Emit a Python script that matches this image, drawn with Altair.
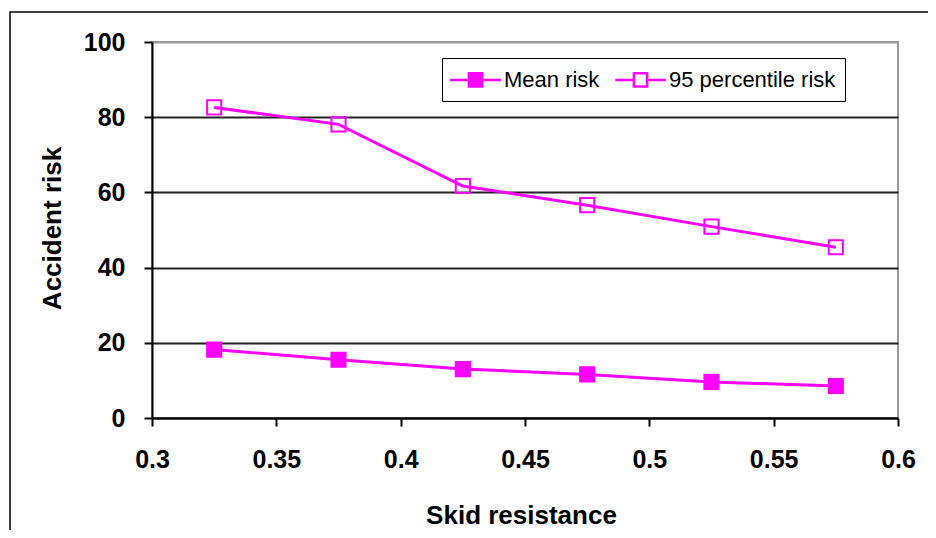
import altair as alt
import pandas as pd

skid = [0.325, 0.375, 0.425, 0.475, 0.525, 0.575]
mean_risk = [18.2, 15.5, 13.0, 11.6, 9.6, 8.5]
p95_risk = [82.6, 78.1, 61.7, 56.6, 50.9, 45.4]
series_names = ["Mean risk", "95 percentile risk"]
x_ticks = [0.3, 0.35, 0.4, 0.45, 0.5, 0.55, 0.6]
y_ticks = [0, 20, 40, 60, 80, 100]

df = pd.DataFrame({
    "skid": skid * 2,
    "risk": mean_risk + p95_risk,
    "series": [series_names[0]] * len(skid) + [series_names[1]] * len(skid),
})

MAG = "#ff00ff"
FONT = "Liberation Sans"
SYMBOL = "M-2.3,0H-0.6M0.6,0H2.3M-0.6,-0.6H0.6V0.6H-0.6Z"

x = alt.X(
    "skid:Q",
    scale=alt.Scale(domain=[0.3, 0.6], nice=False, zero=False),
    axis=alt.Axis(
        values=x_ticks, format=".2~f", title="Skid resistance", grid=False,
        domainColor="black", domainWidth=2, tickColor="black", tickWidth=2, tickSize=8,
        labelFont=FONT, labelFontSize=25, labelFontWeight="bold", labelColor="black",
        labelBaseline="alphabetic", labelPadding=41, labelFlush=False,
        titleFont=FONT, titleFontSize=26, titleFontWeight="bold", titleColor="black",
        titleX=369, titleY=105, titleBaseline="alphabetic", titleAlign="center",
    ),
)
y = alt.Y(
    "risk:Q",
    scale=alt.Scale(domain=[0, 100], nice=False),
    axis=alt.Axis(
        values=y_ticks, title="Accident risk", grid=True,
        gridColor={"condition": {"test": "datum.value === 100", "value": "#9a9a9a"}, "value": "#222222"},
        gridWidth=2,
        domainColor="black", domainWidth=2, tickColor="black", tickWidth=2, tickSize=8,
        labelFont=FONT, labelFontSize=25, labelFontWeight="bold", labelColor="black",
        labelPadding=19,
        titleFont=FONT, titleFontSize=26, titleFontWeight="bold", titleColor="black",
        titleX=-92, titleY=186, titleBaseline="alphabetic", titleAlign="center", titleAngle=270,
    ),
)

base = alt.Chart(df)

lines = base.mark_line(color=MAG, strokeWidth=3).encode(x=x, y=y, detail="series:N")

points = base.mark_point(shape="square", size=200, filled=True, stroke=MAG, strokeWidth=2, opacity=1).encode(
    x=x, y=y,
    fill=alt.Fill(
        "series:N",
        scale=alt.Scale(domain=series_names, range=[MAG, "transparent"]),
        legend=alt.Legend(
            title=None, orient="none", legendX=290, legendY=16, direction="horizontal",
            symbolType=SYMBOL, symbolSize=484, symbolStrokeColor=MAG, symbolStrokeWidth=2.5,
            labelFont=FONT, labelFontSize=22, labelColor="black", labelOffset=16,
            labelLimit=400, columnPadding=10, padding=9, strokeColor="black", fillColor="white",
            symbolOffset=12,
        ),
    ),
)

frame = alt.Chart(pd.DataFrame({"f": [0]})).mark_rect(
    filled=False, stroke="black", strokeWidth=1.5
).encode(
    x=alt.value(-142), x2=alt.value(900), y=alt.value(-30), y2=alt.value(600)
)

chart = alt.layer(frame, lines, points).properties(
    width=746, height=376,
    autosize=alt.AutoSizeParams(type="none"),
    padding={"left": 144, "top": 34, "right": 30, "bottom": 112},
    background="white",
).configure_view(stroke="#9a9a9a", strokeWidth=2)

chart.save("out.html", embed_options={"renderer": "svg", "actions": False})
